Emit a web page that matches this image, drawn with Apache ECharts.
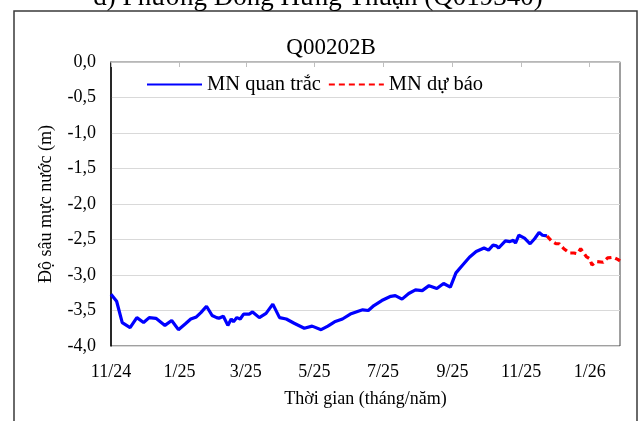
<!DOCTYPE html>
<html>
<head>
<meta charset="utf-8">
<script src="https://cdn.jsdelivr.net/npm/echarts@6/dist/echarts.min.js"></script>
<style>
html,body{margin:0;padding:0;background:#fff;}
#chart{width:642px;height:421px;}
</style>
</head>
<body>
<div id="chart"></div>
<script>
// Observed water level depth (MN quan trắc)
const obsDates = ['2024-11-01','2024-11-06','2024-11-11','2024-11-18','2024-11-24','2024-11-30','2024-12-05','2024-12-11','2024-12-19','2024-12-25','2024-12-31','2025-01-06','2025-01-11','2025-01-16','2025-01-20','2025-01-25','2025-01-30','2025-02-03','2025-02-05','2025-02-09','2025-02-13','2025-02-16','2025-02-18','2025-02-21','2025-02-24','2025-02-27','2025-03-04','2025-03-07','2025-03-13','2025-03-19','2025-03-25','2025-03-31','2025-04-06','2025-04-13','2025-04-22','2025-04-29','2025-05-07','2025-05-13','2025-05-19','2025-05-26','2025-06-02','2025-06-09','2025-06-13','2025-06-18','2025-06-23','2025-06-30','2025-07-08','2025-07-12','2025-07-18','2025-07-24','2025-07-30','2025-08-05','2025-08-11','2025-08-18','2025-08-24','2025-08-30','2025-09-04','2025-09-10','2025-09-16','2025-09-22','2025-09-29','2025-10-03','2025-10-07','2025-10-10','2025-10-12','2025-10-18','2025-10-22','2025-10-25','2025-10-27','2025-10-30','2025-11-04','2025-11-09','2025-11-13','2025-11-17','2025-11-20','2025-11-24'];
const obsValues = [-3.27,-3.37,-3.67,-3.74,-3.60,-3.67,-3.60,-3.61,-3.71,-3.64,-3.77,-3.69,-3.62,-3.59,-3.53,-3.44,-3.57,-3.60,-3.61,-3.58,-3.71,-3.62,-3.66,-3.60,-3.62,-3.55,-3.55,-3.52,-3.60,-3.54,-3.41,-3.60,-3.62,-3.68,-3.75,-3.72,-3.77,-3.72,-3.66,-3.62,-3.55,-3.51,-3.49,-3.50,-3.43,-3.36,-3.30,-3.29,-3.34,-3.26,-3.21,-3.22,-3.15,-3.19,-3.12,-3.17,-2.97,-2.86,-2.75,-2.67,-2.62,-2.65,-2.58,-2.59,-2.62,-2.52,-2.53,-2.51,-2.55,-2.44,-2.48,-2.56,-2.49,-2.40,-2.44,-2.45];
// Forecast (MN dự báo)
const fcDates = ['2025-11-24','2025-11-28','2025-12-02','2025-12-05','2025-12-09','2025-12-14','2025-12-18','2025-12-21','2025-12-24','2025-12-29','2026-01-01','2026-01-03','2026-01-07','2026-01-13','2026-01-17','2026-01-22','2026-01-26','2026-01-28'];
const fcValues = [-2.45,-2.52,-2.56,-2.56,-2.63,-2.69,-2.69,-2.70,-2.63,-2.74,-2.77,-2.86,-2.81,-2.82,-2.76,-2.75,-2.78,-2.80];
// X tick positions and labels
const xTickDates = ['2024-11-01','2025-01-01','2025-03-01','2025-05-01','2025-07-01','2025-09-01','2025-11-01','2026-01-01'];
const xTickLabels = ['11/24','1/25','3/25','5/25','7/25','9/25','11/25','1/26'];
const xMin = '2024-11-01', xMax = '2026-01-28';

const DAY = 86400000;
const ts = d => new Date(d + 'T00:00:00Z').getTime() / DAY; // days since epoch
const tickTs = xTickDates.map(ts);
const serif = '"Liberation Serif","Times New Roman",serif';

const chart = echarts.init(document.getElementById('chart'), null, {renderer:'canvas'});
chart.setOption({
  animation: false,
  backgroundColor: '#fff',
  title: {
    text: 'Q00202B', left: 326, textAlign: 'center', top: 31,
    textStyle: {fontFamily: serif, fontSize: 23, fontWeight: 'normal', color: '#000'}
  },
  graphic: [
    {type:'rect', shape:{x:14, y:11, width:623, height:430}, style:{fill:'none', stroke:'#3a3a3a', lineWidth:1.5}, z: 0, silent:true},
    {type:'text', x:318, y:-2, style:{text:'d) Phường Đông Hưng Thuận (Q019340)', font:'27px "Liberation Serif", serif', fill:'#000', align:'center', verticalAlign:'middle'}, z: 1}
  ],
  legend: {
    left: 141, top: 69, itemWidth: 55, itemHeight: 14, itemGap: 7,
    itemStyle: {color: 'rgba(0,0,0,0)', borderWidth: 0, borderColor: 'rgba(0,0,0,0)'},
    textStyle: {fontFamily: serif, fontSize: 20.5, color:'#000'},
    data: ['MN quan trắc', 'MN dự báo']
  },
  grid: {left: 111, right: 22, top: 62, bottom: 75, show: true, borderColor: '#404040', borderWidth: 1},
  xAxis: {
    type: 'value', min: ts(xMin), max: ts(xMax),
    name: 'Thời gian (tháng/năm)', nameLocation: 'middle', nameGap: 44,
    nameTextStyle: {fontFamily: serif, fontSize: 18, color:'#000'},
    axisLine: {show: true, lineStyle: {color: '#BFBFBF', width: 1.5}},
    axisTick: {show: true, length: 5, inside: false, lineStyle:{color:'#BFBFBF'}, customValues: tickTs},
    axisLabel: {customValues: tickTs, margin: 17, fontFamily: serif, fontSize: 18, color:'#000',
      formatter: v => { const i = tickTs.findIndex(t => Math.abs(t - v) < 0.01); return i >= 0 ? xTickLabels[i] : ''; }},
    splitLine: {show: false}
  },
  yAxis: {
    type: 'value', min: -4, max: 0, interval: 0.5,
    name: 'Độ sâu mực nước (m)', nameLocation: 'middle', nameGap: 56,
    nameTextStyle: {fontFamily: serif, fontSize: 18, color:'#000'},
    axisLine: {show: true, lineStyle: {color: '#000', width: 1.5}},
    axisTick: {show: false},
    axisLabel: {margin: 15, fontFamily: serif, fontSize: 18, color:'#000',
      formatter: v => v.toFixed(1).replace('.', ',')},
    splitLine: {show: true, lineStyle: {color: '#D9D9D9', width: 1.2}}
  },
  series: [
    {name: 'MN quan trắc', type: 'line', symbol: 'none', z: 3,
     data: obsDates.map((d, i) => [ts(d), obsValues[i]]),
     lineStyle: {color: '#0000FF', width: 3.2}, itemStyle: {color: '#0000FF'}},
    {name: 'MN dự báo', type: 'line', symbol: 'none', z: 4,
     data: fcDates.map((d, i) => [ts(d), fcValues[i]]),
     lineStyle: {color: '#FF0000', width: 3.2, type: [6, 4]}, itemStyle: {color: '#FF0000'}}
  ]
});
</script>
</body>
</html>
